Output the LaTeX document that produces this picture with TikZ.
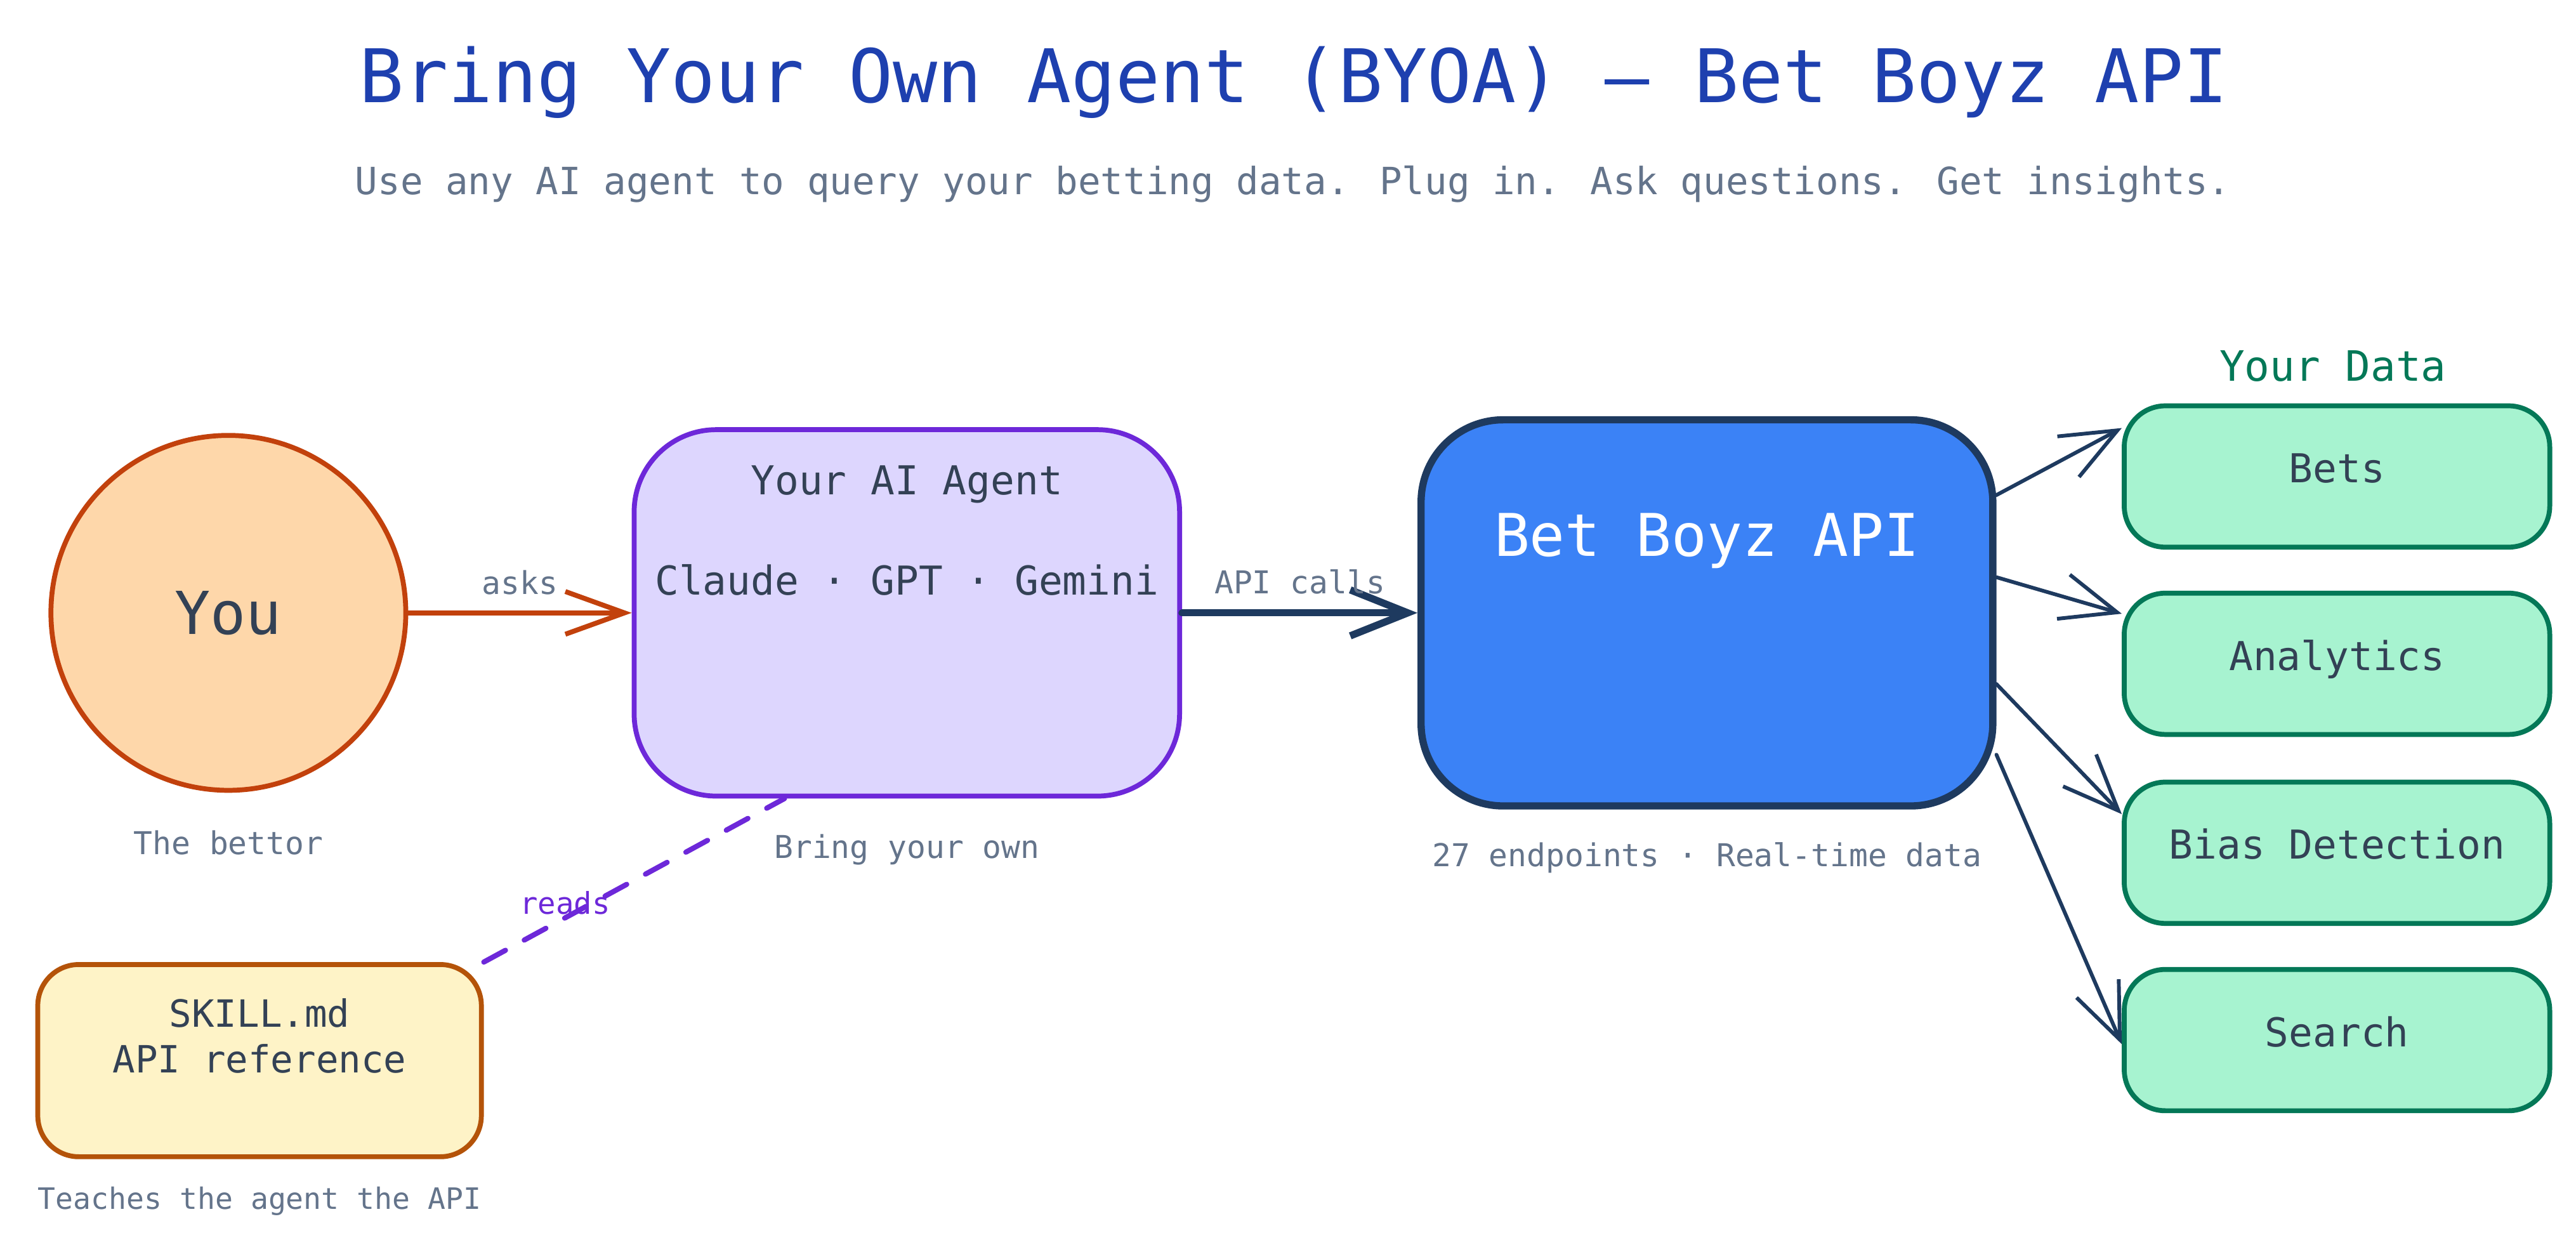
\documentclass[tikz,border=0pt]{standalone}
\usepackage{fontspec}
\setmainfont{DejaVu Sans Mono}
\usetikzlibrary{arrows.meta}
\usetikzlibrary{positioning}
\usetikzlibrary{calc}

\definecolor{titleblue}{HTML}{1E40AF}
\definecolor{labelgray}{HTML}{64748B}
\definecolor{darktext}{HTML}{334155}
\definecolor{youfill}{HTML}{FED7AA}
\definecolor{youline}{HTML}{C2410C}
\definecolor{agentfill}{HTML}{DDD6FE}
\definecolor{agentline}{HTML}{6D28D9}
\definecolor{apifill}{HTML}{3B82F6}
\definecolor{apiline}{HTML}{1E3A5F}
\definecolor{datafill}{HTML}{A7F3D0}
\definecolor{dataline}{HTML}{047857}
\definecolor{skillfill}{HTML}{FEF3C7}
\definecolor{skillline}{HTML}{B45309}

\tikzset{
  smalllabel/.style={text=labelgray, font=\fontsize{10.9}{13}\selectfont},
  boxtext/.style={text=darktext, font=\fontsize{13.8}{16}\selectfont},
  databox/.style={draw=dataline, fill=datafill, line width=1.7pt, rounded corners=0.5cm,
    minimum width=5.18cm, minimum height=1.72cm, text height=10pt, text depth=5.6pt,
    text=darktext, font=\fontsize{13.8}{16}\selectfont},
  dataarrow/.style={draw=apiline, line width=1.3pt, line cap=round,
    -{Straight Barb[length=0.68cm,width=0.56cm]}}
}

\begin{document}
\begin{tikzpicture}
\useasboundingbox (0,0) rectangle (31.36,15.32);

%title
\node[text=titleblue, font=\fontsize{25.6}{30}\selectfont] (title) at (15.75,14.32) {Bring Your Own Agent (BYOA) — Bet Boyz API};
\node[text=labelgray, font=\fontsize{13}{16}\selectfont] (subtitle) at (15.74,13.08) {Use any AI agent to query your betting data. Plug in. Ask questions. Get insights.};

%you
\node[circle, draw=youline, fill=youfill, line width=1.7pt, minimum size=4.32cm, inner sep=0pt,
  text=darktext, font=\fontsize{20.5}{24}\selectfont] (you) at (2.78,7.86) {You};
\node[smalllabel] (bettor) at (2.78,5.06) {The bettor};

%agent
\node[draw=agentline, fill=agentfill, line width=1.7pt, rounded corners=1cm,
  minimum width=6.64cm, minimum height=4.46cm] (agent) at (11.04,7.86) {};
\node[boxtext] (agentname) at ([yshift=-0.7cm]agent.north) {Your AI Agent};
\node[boxtext] (models) at ([yshift=-1.86cm]agent.north) {Claude · GPT · Gemini};
\node[smalllabel] (own) at (11.04,4.98) {Bring your own};

%api
\node[draw=apiline, fill=apifill, line width=2.5pt, rounded corners=1cm,
  minimum width=6.96cm, minimum height=4.7cm] (api) at (20.78,7.86) {};
\node[text=white, font=\fontsize{20.4}{24}\selectfont] (apiname) at ([yshift=-1.52cm]api.north) {Bet Boyz API};
\node[smalllabel] (endpoints) at (20.78,4.88) {27 endpoints · Real-time data};

%your data
\node[text=dataline, font=\fontsize{14.5}{17}\selectfont] (datatitle) at (28.4,10.86) {Your Data};
\foreach \name/\txt/\y in {bets/Bets/9.52, analytics/Analytics/7.24, bias/Bias Detection/4.94, search/Search/2.66} {
  \node[databox] (\name) at (28.45,\y) {\txt};
}

%skill file
\node[draw=skillline, fill=skillfill, line width=1.7pt, rounded corners=0.5cm,
  minimum width=5.4cm, minimum height=2.34cm] (skill) at (3.16,2.41) {};
\node[boxtext, font=\fontsize{13}{15.9}\selectfont, align=center] (skilltext) at ([yshift=-0.9cm]skill.north) {SKILL.md\\API reference};
\node[smalllabel, font=\fontsize{10.2}{12}\selectfont] (teaches) at (3.16,0.7) {Teaches the agent the API};

%arrows
\draw[draw=youline, line width=1.7pt, line cap=round, -{Straight Barb[length=0.72cm,width=0.52cm]}]
  (you.east) -- (agent.west) node[midway, above=2pt, smalllabel] {asks};
\draw[draw=apiline, line width=2.5pt, line cap=round, -{Straight Barb[length=0.7cm,width=0.56cm]}]
  (agent.east) -- (api.west) node[midway, above=2pt, smalllabel] {API calls};
\foreach \name/\s/\e in {bets/0.96/0.30, analytics/1.96/0.28, bias/3.26/0.42, search/4.12/0.94} {
  \draw[dataarrow] ([yshift=-\s cm]api.north east) -- ([yshift=-\e cm]\name.north west);
}

%reads
\draw[draw=agentline, line width=1.8pt, line cap=round, dash pattern=on 0.3cm off 0.26cm]
  (skill.north east) -- ([xshift=1.86cm]agent.south west)
  node[pos=0.27, yshift=0.18cm, text=agentline, font=\fontsize{10.4}{12}\selectfont] {reads};

\end{tikzpicture}
\end{document}
